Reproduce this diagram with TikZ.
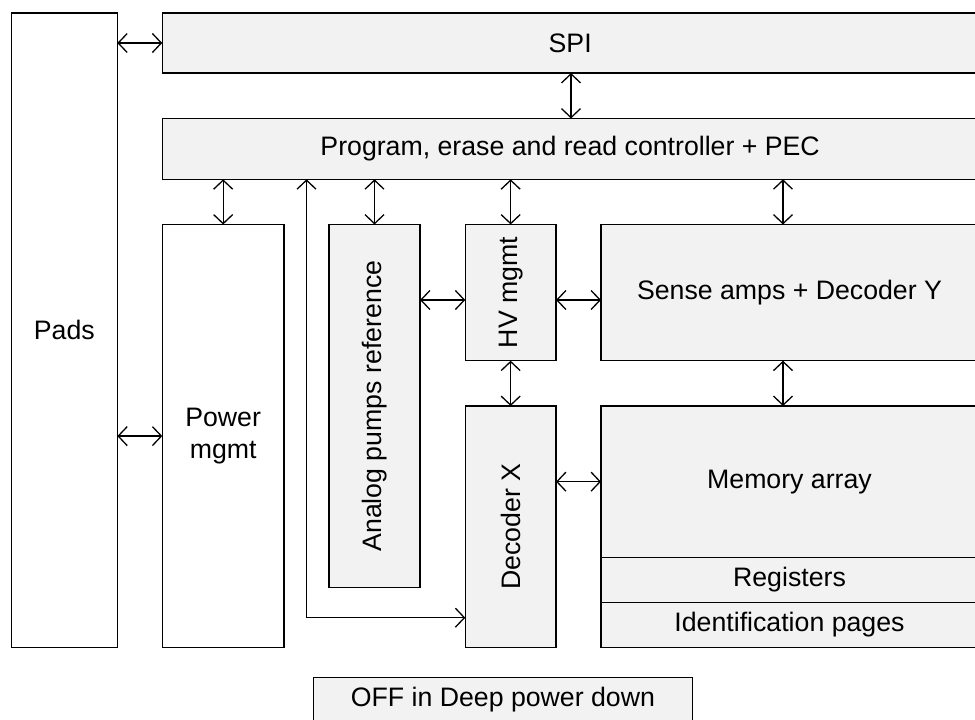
\documentclass[tikz,border=0pt]{standalone}
\usepackage{fontspec}
\setmainfont{Liberation Sans}
\usetikzlibrary{arrows.meta}
\definecolor{boxgray}{HTML}{F2F2F2}
\begin{document}
\begin{tikzpicture}[x=1pt,y=-1pt,
  blk/.style={draw=black, line width=1.3pt, fill=boxgray, inner sep=0pt, outer sep=0pt, align=center,
    font=\fontsize{26.7}{31.8}\selectfont},
  wblk/.style={blk, fill=white},
  txt/.style={inner sep=0pt, font=\fontsize{26.7}{31.8}\selectfont},
  biarrow/.style={line width=1.3pt, {Straight Barb[length=9pt,width=19pt]}-{Straight Barb[length=9pt,width=19pt]}}]
\useasboundingbox (0,0) rectangle (975,720);
% blocks
\node[wblk, minimum width=106pt, minimum height=634.7pt] (pads) at (64.3,330.35) {Pads};
\node[blk, minimum width=815.7pt, minimum height=60pt] (spi) at (570.15,43) {SPI};
\node[blk, minimum width=815.7pt, minimum height=60.8pt] (prog) at (570.15,148.9) {Program, erase and read controller + PEC};
\node[wblk, minimum width=121.7pt, minimum height=423.2pt] (power) at (223.15,436.1) {Power\\mgmt};
\node[blk, minimum width=91pt, minimum height=363.2pt] (analog) at (374.5,406.1) {};
\node[txt, rotate=90] (analogtxt) at (analog.center) {Analog pumps reference};
\node[blk, minimum width=90.7pt, minimum height=136.2pt] (hv) at (510.65,292.6) {};
\node[txt, rotate=90] (hvtxt) at (hv.center) {HV mgmt};
\node[blk, minimum width=377pt, minimum height=136.2pt] (sense) at (789.5,292.6) {Sense amps + Decoder Y};
\node[blk, minimum width=90.7pt, minimum height=241.7pt] (decx) at (510.65,526.85) {};
\node[txt, rotate=90] (decxtxt) at (decx.center) {Decoder X};
\node[blk, minimum width=377pt, minimum height=151.3pt] (mem) at (789.5,481.65) {Memory array};
\node[blk, minimum width=377pt, minimum height=45pt] (reg) at (789.5,579.8) {Registers};
\node[blk, minimum width=377pt, minimum height=45.4pt] (idp) at (789.5,625) {Identification pages};
\node[blk, minimum width=379pt, minimum height=44.3pt] (off) at (502.9,699.85) {OFF in Deep power down};
% helper coordinates
\coordinate (cspi) at (571,0);
\coordinate (csense) at (783,0);
\coordinate (crow) at (0,300);
\coordinate (cloop) at (306.5,617.7);
% connectors
\draw[biarrow] (spi.west) -- (spi.west -| pads.east);
\draw[biarrow] (spi.south -| cspi) -- (prog.north -| cspi);
\draw[biarrow] (prog.south -| power.north) -- (power.north);
\draw[biarrow] (prog.south -| analog.north) -- (analog.north);
\draw[biarrow] (prog.south -| hv.north) -- (hv.north);
\draw[biarrow] (prog.south -| csense) -- (sense.north -| csense);
\draw[biarrow] (analog.east |- crow) -- (hv.west |- crow);
\draw[biarrow] (hv.east |- crow) -- (sense.west |- crow);
\draw[biarrow] (hv.south) -- (decx.north);
\draw[biarrow] (sense.south -| csense) -- (mem.north -| csense);
\draw[biarrow] (decx.east |- mem.west) -- (mem.west);
\draw[biarrow] (power.west) -- (power.west -| pads.east);
\draw[biarrow] (prog.south -| cloop) -- (cloop) -- (decx.west |- cloop);
\end{tikzpicture}
\end{document}
